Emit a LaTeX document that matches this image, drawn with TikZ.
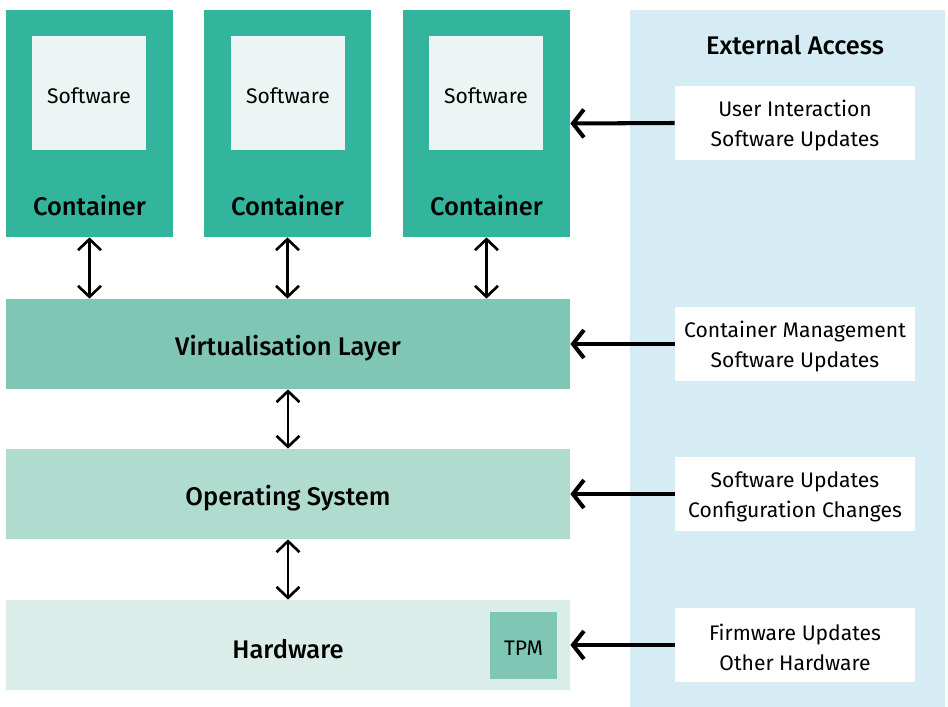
\documentclass[tikz,border=0pt]{standalone}
\usepackage{fontspec}
\setmainfont{Fira Sans}[BoldFont={Fira Sans Medium}]
\usepackage{tikz}
\usetikzlibrary{arrows.meta, positioning, calc}

\definecolor{contgreen}{HTML}{33B49C}
\definecolor{softbg}{HTML}{ECF5F3}
\definecolor{virtgreen}{HTML}{7FC6B5}
\definecolor{osgreen}{HTML}{B0DCD0}
\definecolor{hwgreen}{HTML}{DAEDE8}
\definecolor{extblue}{HTML}{D5ECF5}

\begin{document}
\begin{tikzpicture}[
    x=0.2mm, y=-0.2mm,
    container/.style={rectangle, fill=contgreen, minimum width=33.4mm, minimum height=45.4mm, inner sep=0pt},
    software/.style={rectangle, fill=softbg, minimum width=22.8mm, minimum height=22.8mm, inner sep=0pt, text height=12pt, font=\fontsize{12}{14}\selectfont},
    heading/.style={font=\fontsize{14.5}{17}\selectfont\bfseries},
    layer/.style={rectangle, minimum width=112.8mm, minimum height=18mm, inner sep=0pt, text height=3ex, heading},
    extbox/.style={rectangle, fill=white, minimum width=48mm, minimum height=14.8mm, inner sep=0pt, align=center, text height=29pt, font=\fontsize{12}{17}\selectfont},
    thinarrow/.style={{Straight Barb[length=2.2mm, width=4.6mm]}-{Straight Barb[length=2.2mm, width=4.6mm]}, line width=1.5pt},
    thickarrow/.style={-{Straight Barb[length=2.2mm, width=5.6mm]}, line width=2.3pt}
]
    \useasboundingbox (0,0) rectangle (948,707);

    % External access panel
    \fill[extblue] (630,10) rectangle (945,707);
    \node[heading] (exttitle) at (795,45) {External Access};

    % Containers with software
    \node[container] (cont1) at (89.5,123.5) {};
    \node[container] (cont2) at (287.5,123.5) {};
    \node[container] (cont3) at (486.5,123.5) {};
    \node[software] (soft1) at (89,93) {Software};
    \node[software] (soft2) at (288,93) {Software};
    \node[software] (soft3) at (486,93) {Software};
    \node[heading] (contlabel1) at (89.5,206) {Container};
    \node[heading] (contlabel2) at (287.5,206) {Container};
    \node[heading] (contlabel3) at (486.5,206) {Container};

    % Layers
    \node[layer, fill=virtgreen] (virt) at (288,344) {Virtualisation Layer};
    \node[layer, fill=osgreen] (os) at (288,494) {Operating System};
    \node[layer, fill=hwgreen] (hw) at (288,645) {Hardware};
    \node[rectangle, fill=virtgreen, minimum width=13.4mm, minimum height=13.4mm, inner sep=0pt, text height=11pt, font=\fontsize{12}{14}\selectfont] (tpm) at (523.5,645.5) {TPM};

    % External inputs
    \node[extbox] (ext1) at (795,123) {User Interaction\\Software Updates};
    \node[extbox] (ext2) at (795,344) {Container Management\\Software Updates};
    \node[extbox] (ext3) at (795,494) {Software Updates\\Configuration Changes};
    \node[extbox] (ext4) at (795,645) {Firmware Updates\\Other Hardware};

    % Vertical links
    \foreach \c in {cont1, cont2, cont3}
        \draw[thinarrow] (\c.south) -- (\c.south |- virt.north);
    \draw[thinarrow] (virt.south) -- (os.north);
    \draw[thinarrow] (os.south) -- (hw.north);

    % External access arrows
    \draw[thickarrow] (ext1.west) -- (cont3.east);
    \draw[thickarrow] (ext2.west) -- (virt.east);
    \draw[thickarrow] (ext3.west) -- (os.east);
    \draw[thickarrow] (ext4.west) -- (hw.east);
\end{tikzpicture}
\end{document}
